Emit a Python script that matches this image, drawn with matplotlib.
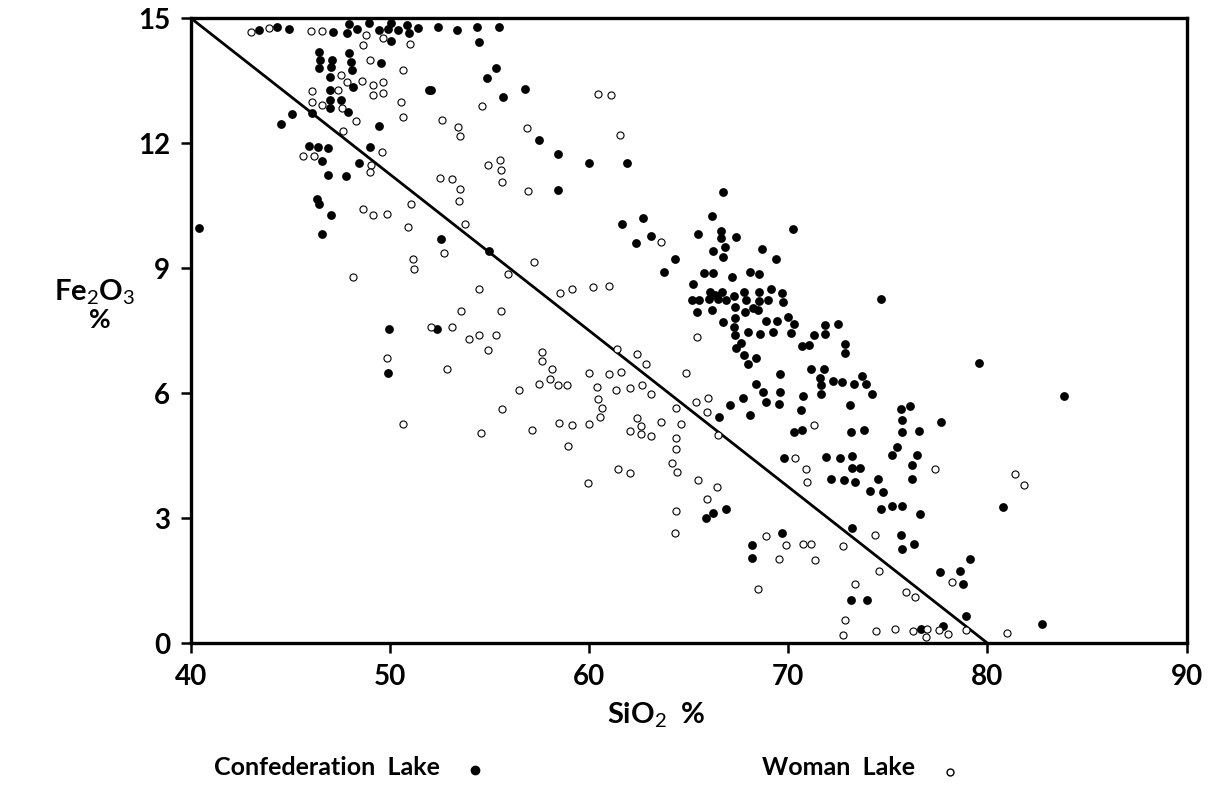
import matplotlib
matplotlib.use("Agg")
import matplotlib.pyplot as plt
from matplotlib.lines import Line2D

# Confederation Lake (filled dots): SiO2 %, Fe2O3 %
conf_sio2 = [43.43, 44.33, 44.93, 47.14, 47.93, 47.82, 48.32, 48.94, 49.44, 49.90, 50.03, 50.38, 50.83, 50.93,
             51.41, 50.04, 46.43, 46.48, 46.44, 47.06, 47.01, 47.95, 48.03, 48.07, 49.52, 46.98, 46.98, 48.15,
             46.98, 46.98, 47.52, 47.90, 46.06, 45.06, 44.50, 49.45, 51.96, 45.92, 46.39, 46.86, 46.59, 48.99,
             48.43, 46.86, 47.77, 46.31, 46.43, 47.01, 40.42, 46.56, 49.94, 49.87, 52.41, 53.37, 54.37, 55.48,
             54.47, 55.31, 54.84, 52.05, 55.68, 56.77, 57.47, 58.44, 59.98, 61.90, 58.41, 61.62, 62.71, 62.37,
             63.08, 64.30, 63.75, 52.54, 54.97, 52.36, 66.72, 66.17, 65.44, 66.61, 66.64, 67.36, 70.24, 66.81,
             66.22, 66.72, 68.68, 69.37, 65.75, 66.22, 67.17, 68.06, 68.53, 65.22, 66.05, 66.31, 66.67, 65.15,
             65.52, 66.02, 66.47, 66.89, 67.26, 67.76, 67.85, 68.53, 68.53, 68.98, 69.12, 69.70, 69.73, 65.39,
             66.14, 67.31, 67.81, 68.20, 68.48, 67.31, 66.72, 67.26, 68.87, 69.45, 69.98, 70.29, 67.98, 67.31,
             68.56, 69.23, 70.12, 71.29, 71.86, 72.50, 71.86, 67.61, 67.39, 70.66, 71.04, 72.83, 72.83, 67.76,
             68.35, 67.98, 71.16, 71.78, 69.57, 71.61, 71.66, 71.66, 72.24, 72.67, 73.30, 73.70, 73.92, 74.20,
             68.36, 68.73, 69.57, 68.90, 69.52, 70.71, 70.61, 67.70, 67.09, 66.51, 68.06, 73.08, 75.64, 76.13,
             75.71, 75.71, 76.56, 73.17, 73.80, 70.27, 70.66, 75.46, 75.21, 76.48, 76.21, 76.23, 69.78, 71.91,
             72.58, 73.20, 73.20, 73.58, 72.16, 72.80, 73.37, 74.50, 74.12, 74.75, 74.67, 75.21, 75.73, 76.60,
             65.85, 66.19, 66.86, 73.20, 75.68, 75.71, 76.31, 69.70, 68.18, 68.18, 73.17, 73.95, 79.56, 83.84,
             77.65, 80.78, 79.14, 77.64, 78.61, 78.77, 78.90, 77.77, 76.68, 82.72, 74.64]
conf_fe2o3 = [14.72, 14.78, 14.75, 14.67, 14.86, 14.65, 14.74, 14.88, 14.72, 14.74, 14.88, 14.72, 14.83, 14.65,
              14.76, 14.46, 14.20, 14.01, 13.81, 14.01, 13.82, 14.16, 13.96, 13.77, 13.93, 13.58, 13.28, 13.34,
              13.04, 12.85, 13.04, 12.74, 12.72, 12.70, 12.46, 12.42, 13.29, 11.94, 11.90, 11.89, 11.58, 11.92,
              11.53, 11.25, 11.21, 10.66, 10.54, 10.28, 9.97, 9.81, 7.55, 6.49, 14.78, 14.72, 14.80, 14.78,
              14.42, 13.80, 13.57, 13.29, 13.12, 13.31, 12.08, 11.74, 11.53, 11.52, 10.88, 10.06, 10.21, 9.60,
              9.78, 9.23, 8.92, 9.70, 9.42, 7.53, 10.84, 10.26, 9.82, 9.90, 9.73, 9.74, 9.93, 9.50,
              9.42, 9.26, 9.47, 9.22, 8.89, 8.89, 8.78, 8.91, 8.85, 8.61, 8.42, 8.36, 8.44, 8.23,
              8.24, 8.26, 8.26, 8.23, 8.33, 8.44, 8.23, 8.44, 8.21, 8.23, 8.51, 8.41, 8.18, 7.96,
              7.99, 8.06, 7.96, 8.04, 7.99, 7.81, 7.70, 7.60, 7.73, 7.73, 7.82, 7.67, 7.47, 7.40,
              7.41, 7.46, 7.44, 7.39, 7.63, 7.65, 7.41, 7.21, 7.08, 7.14, 7.15, 7.19, 6.97, 6.91,
              6.85, 6.69, 6.59, 6.57, 6.47, 6.37, 6.19, 5.99, 6.29, 6.28, 6.23, 6.41, 6.23, 5.99,
              6.21, 6.04, 6.03, 5.80, 5.73, 5.93, 5.59, 5.88, 5.71, 5.43, 5.48, 5.72, 5.63, 5.69,
              5.36, 5.08, 5.09, 5.08, 5.11, 5.08, 5.12, 4.72, 4.51, 4.51, 4.27, 3.95, 4.44, 4.48,
              4.44, 4.49, 4.21, 4.20, 3.95, 3.91, 3.88, 3.95, 3.65, 3.63, 3.21, 3.29, 3.29, 3.09,
              3.01, 3.12, 3.23, 2.76, 2.59, 2.27, 2.39, 2.65, 2.35, 2.05, 1.03, 1.03, 6.73, 5.93,
              5.31, 3.27, 2.01, 1.71, 1.73, 1.43, 0.65, 0.41, 0.33, 0.47, 8.27]

# Woman Lake (open circles)
woman_sio2 = [43.01, 43.92, 46.01, 46.56, 48.77, 48.65, 49.65, 50.99, 48.99, 50.66, 47.53, 47.82, 48.57, 49.12,
              49.62, 49.15, 49.65, 46.09, 47.39, 46.09, 46.59, 47.60, 50.54, 50.66, 48.27, 47.65, 45.61, 46.17,
              49.57, 49.02, 48.99, 51.04, 48.65, 49.12, 49.82, 50.88, 51.13, 51.19, 48.12, 49.82, 50.66, 52.03,
              60.45, 61.07, 54.62, 52.62, 53.39, 53.50, 56.85, 61.54, 55.51, 54.92, 55.56, 55.63, 52.50, 53.09,
              53.50, 53.47, 56.93, 53.76, 52.72, 57.23, 55.93, 54.47, 58.52, 59.14, 60.20, 60.97, 63.59, 53.55,
              55.56, 53.09, 54.47, 53.97, 55.31, 54.92, 52.87, 57.61, 57.61, 58.11, 58.02, 57.48, 58.41, 58.86,
              56.48, 60.00, 60.98, 61.59, 61.37, 62.42, 62.83, 60.37, 61.34, 62.04, 62.66, 63.09, 60.45, 60.62,
              60.53, 55.60, 58.49, 59.11, 60.00, 62.40, 62.58, 62.04, 62.58, 63.08, 63.59, 64.35, 64.60, 54.54,
              57.13, 58.91, 61.42, 62.04, 59.94, 64.38, 64.38, 64.13, 64.41, 64.38, 64.30, 64.85, 65.34, 65.97,
              65.89, 66.47, 65.47, 66.44, 65.89, 71.29, 70.32, 70.87, 70.96, 68.90, 69.90, 69.52, 70.74, 71.16,
              71.33, 72.72, 74.37, 73.33, 74.54, 68.48, 75.93, 76.35, 72.83, 72.72, 74.39, 75.38, 76.26, 65.39,
              77.38, 81.37, 81.82, 78.24, 76.96, 76.90, 77.55, 78.02, 78.94, 80.98]
woman_fe2o3 = [14.68, 14.76, 14.70, 14.70, 14.60, 14.36, 14.52, 14.38, 14.00, 13.76, 13.65, 13.48, 13.50, 13.41,
               13.48, 13.17, 13.21, 13.26, 13.28, 13.00, 12.93, 12.85, 13.00, 12.62, 12.54, 12.29, 11.70, 11.69,
               11.80, 11.49, 11.31, 10.54, 10.41, 10.28, 10.30, 10.00, 9.23, 8.97, 8.78, 6.84, 5.27, 7.59,
               13.18, 13.17, 12.90, 12.57, 12.40, 12.17, 12.37, 12.20, 11.60, 11.49, 11.37, 11.06, 11.17, 11.14,
               10.89, 10.62, 10.86, 10.06, 9.37, 9.14, 8.87, 8.51, 8.40, 8.51, 8.54, 8.57, 9.64, 7.97,
               7.97, 7.60, 7.39, 7.29, 7.40, 7.03, 6.57, 7.00, 6.77, 6.57, 6.35, 6.21, 6.20, 6.19,
               6.07, 6.49, 6.47, 6.52, 7.07, 6.93, 6.71, 6.16, 6.08, 6.12, 6.20, 5.99, 5.85, 5.65,
               5.43, 5.61, 5.28, 5.24, 5.27, 5.40, 5.21, 5.09, 5.03, 4.97, 5.32, 5.64, 5.27, 5.05,
               5.11, 4.73, 4.17, 4.09, 3.84, 4.93, 4.65, 4.32, 4.11, 3.17, 2.65, 6.48, 5.79, 5.88,
               5.56, 4.99, 3.91, 3.75, 3.45, 5.24, 4.45, 4.17, 3.87, 2.57, 2.35, 2.01, 2.39, 2.39,
               1.99, 2.33, 2.59, 1.43, 1.73, 1.31, 1.22, 1.10, 0.55, 0.19, 0.29, 0.34, 0.29, 7.36,
               4.17, 4.05, 3.79, 1.46, 0.35, 0.14, 0.31, 0.21, 0.31, 0.25]

# dividing line
line_sio2 = [40, 80]
line_fe2o3 = [15, 0]

x_ticks = [40, 50, 60, 70, 80, 90]
y_ticks = [0, 3, 6, 9, 12, 15]

plt.rcParams['font.family'] = ['Lato', 'DejaVu Sans']
plt.rcParams['mathtext.fontset'] = 'custom'
plt.rcParams['mathtext.rm'] = 'Lato'
plt.rcParams['mathtext.it'] = 'Lato'

fig = plt.figure(figsize=(12.17, 7.95), dpi=100)
ax = fig.add_axes([0.157, 0.191, 0.818, 0.786])

ax.plot(line_sio2, line_fe2o3, color='black', lw=2.0, solid_capstyle='butt')
ax.scatter(conf_sio2, conf_fe2o3, s=40, c='black', marker='o', linewidths=0, zorder=3, clip_on=False)
ax.scatter(woman_sio2, woman_fe2o3, s=26, facecolors='white', edgecolors='black', marker='o',
           linewidths=0.8, zorder=3, clip_on=False)

ax.set_xlim(40, 90)
ax.set_ylim(0, 15)
ax.set_xticks(x_ticks)
ax.set_yticks(y_ticks)
ax.tick_params(direction='out', length=7, width=1.8, labelsize=20, pad=8)
for s in ax.spines.values():
    s.set_linewidth(2.4)
for lab in ax.get_xticklabels() + ax.get_yticklabels():
    lab.set_fontweight('bold')

# axis titles
fig.text(0.078, 0.632, r'Fe$_2$O$_3$', fontsize=21, fontweight='bold', ha='center', va='center')
fig.text(0.082, 0.598, '%', fontsize=19, fontweight='bold', ha='center', va='center')
fig.text(0.539, 0.100, r'SiO$_2$  %', fontsize=21, fontweight='bold', ha='center', va='center')

# legend drawn as text plus marker
fig.text(0.3615, 0.034, 'Confederation  Lake', fontsize=18, fontweight='bold', ha='right', va='center')
fig.add_artist(Line2D([0.390], [0.032], marker='o', markersize=6, color='black', linestyle='none',
                      transform=fig.transFigure))
fig.text(0.752, 0.034, 'Woman  Lake', fontsize=18, fontweight='bold', ha='right', va='center')
fig.add_artist(Line2D([0.781], [0.029], marker='o', markersize=5, markerfacecolor='white',
                      markeredgecolor='black', markeredgewidth=1.0, linestyle='none',
                      transform=fig.transFigure))

fig.savefig('out.png', dpi=100, facecolor='white')
